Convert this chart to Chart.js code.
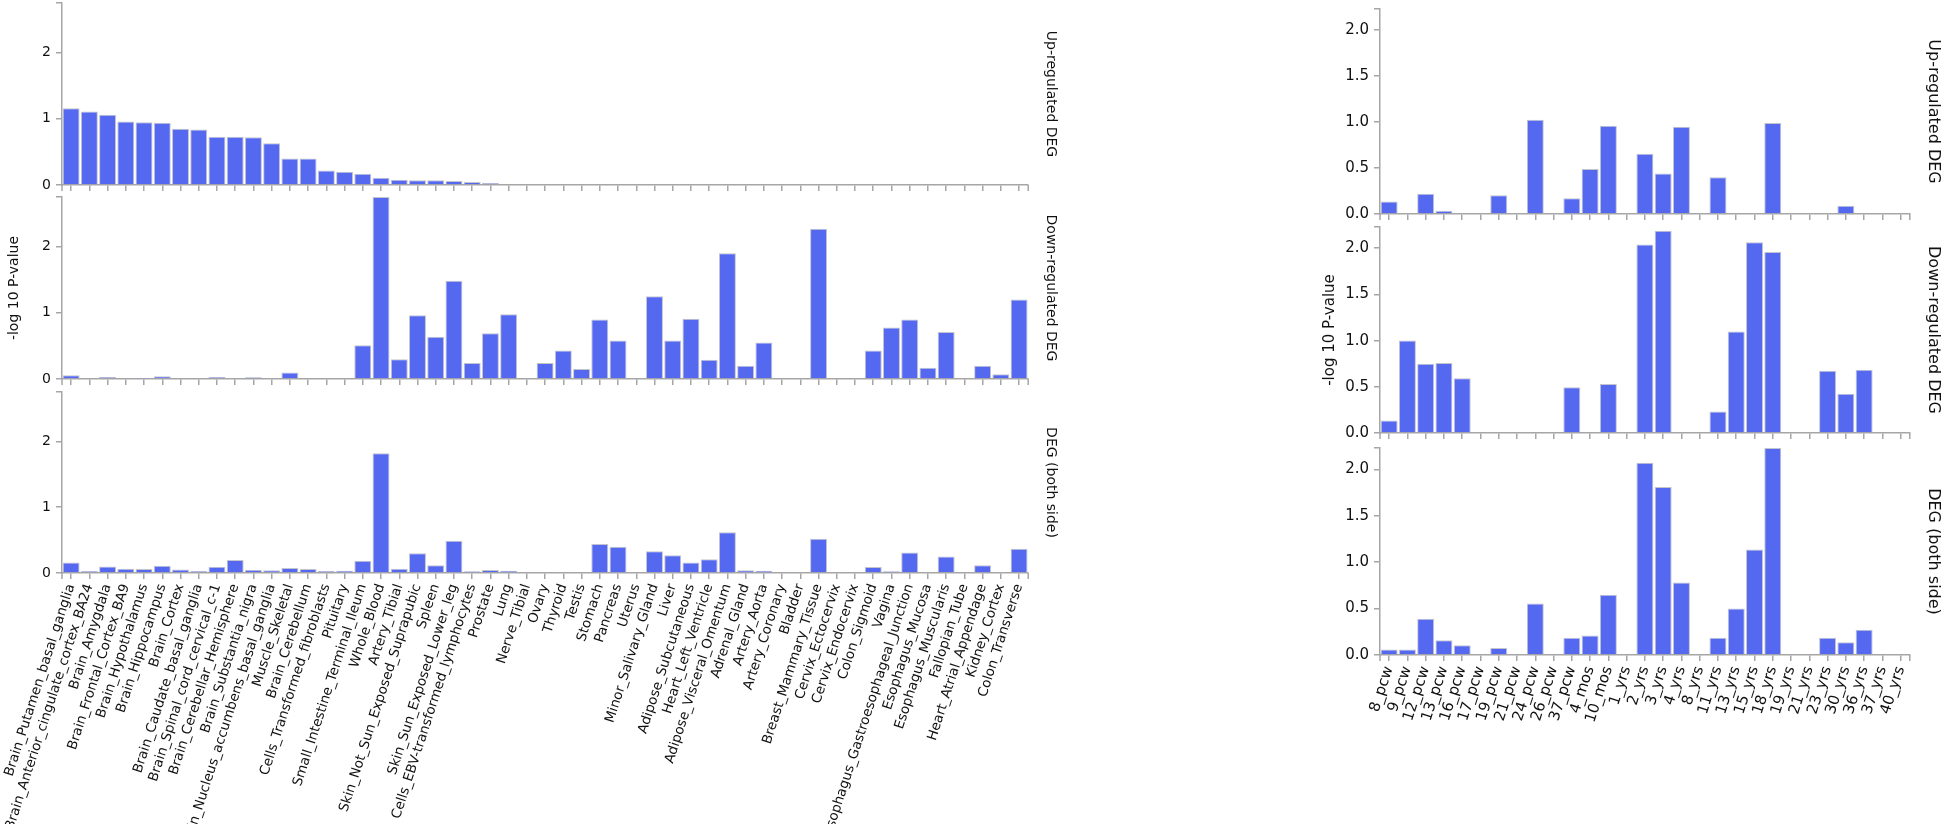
<!DOCTYPE html>
<html>
<head>
<meta charset="utf-8">
<script src="https://cdn.jsdelivr.net/npm/chart.js@4.4.1/dist/chart.umd.min.js"></script>
<style>
  html, body { margin: 0; padding: 0; background: #fff; }
  body { width: 1946px; height: 824px; position: relative; overflow: hidden; }
  canvas { position: absolute; top: 0; }
</style>
</head>
<body>
<canvas id="tissueUpChart" width="1059" height="824" style="left:0"></canvas>
<canvas id="tissueDownChart" width="1059" height="824" style="left:0"></canvas>
<canvas id="tissueBothChart" width="1059" height="824" style="left:0"></canvas>
<canvas id="ageUpChart" width="628" height="824" style="left:1315px"></canvas>
<canvas id="ageDownChart" width="628" height="824" style="left:1315px"></canvas>
<canvas id="ageBothChart" width="628" height="824" style="left:1315px"></canvas>
<script>
//Data - GTEx tissues (left)
const tissues = [
  'Brain_Putamen_basal_ganglia', 'Brain_Anterior_cingulate_cortex_BA24', 'Brain_Amygdala',
  'Brain_Frontal_Cortex_BA9', 'Brain_Hypothalamus', 'Brain_Hippocampus', 'Brain_Cortex',
  'Brain_Caudate_basal_ganglia', 'Brain_Spinal_cord_cervical_c-1', 'Brain_Cerebellar_Hemisphere',
  'Brain_Substantia_nigra', 'Brain_Nucleus_accumbens_basal_ganglia', 'Muscle_Skeletal',
  'Brain_Cerebellum', 'Cells_Transformed_fibroblasts', 'Pituitary', 'Small_Intestine_Terminal_Ileum',
  'Whole_Blood', 'Artery_Tibial', 'Skin_Not_Sun_Exposed_Suprapubic', 'Spleen',
  'Skin_Sun_Exposed_Lower_leg', 'Cells_EBV-transformed_lymphocytes', 'Prostate', 'Lung',
  'Nerve_Tibial', 'Ovary', 'Thyroid', 'Testis', 'Stomach', 'Pancreas', 'Uterus',
  'Minor_Salivary_Gland', 'Liver', 'Adipose_Subcutaneous', 'Heart_Left_Ventricle',
  'Adipose_Visceral_Omentum', 'Adrenal_Gland', 'Artery_Aorta', 'Artery_Coronary', 'Bladder',
  'Breast_Mammary_Tissue', 'Cervix_Ectocervix', 'Cervix_Endocervix', 'Colon_Sigmoid', 'Vagina',
  'Esophagus_Gastroesophageal_Junction', 'Esophagus_Mucosa', 'Esophagus_Muscularis',
  'Fallopian_Tube', 'Heart_Atrial_Appendage', 'Kidney_Cortex', 'Colon_Transverse'
];
const tissueUp = [
  1.16, 1.11, 1.06, 0.96, 0.95, 0.94, 0.85, 0.84, 0.73, 0.73, 0.72, 0.63, 0.40,
  0.40, 0.22, 0.20, 0.17, 0.11, 0.08, 0.07, 0.07, 0.06, 0.045, 0.03, 0.01,
  0, 0, 0, 0, 0, 0, 0, 0, 0, 0, 0, 0, 0, 0, 0, 0, 0, 0, 0, 0, 0, 0, 0, 0, 0, 0, 0, 0
];
const tissueDown = [
  0.055, 0, 0.03, 0, 0.005, 0.04, 0, 0, 0.03, 0, 0.025, 0.015, 0.10,
  0, 0, 0, 0.51, 2.75, 0.30, 0.965, 0.64, 1.485, 0.24, 0.69, 0.98,
  0, 0.24, 0.43, 0.15, 0.90, 0.58, 0, 1.25, 0.58, 0.91, 0.29, 1.90, 0.20, 0.55, 0, 0,
  2.27, 0, 0, 0.43, 0.78, 0.90, 0.17, 0.71, 0, 0.20, 0.07, 1.20
];
const tissueBoth = [
  0.16, 0.03, 0.10, 0.066, 0.06, 0.11, 0.055, 0.03, 0.096, 0.197, 0.05, 0.04, 0.076,
  0.06, 0.03, 0.035, 0.187, 1.82, 0.066, 0.30, 0.116, 0.49, 0.025, 0.045, 0.035,
  0, 0, 0, 0, 0.44, 0.40, 0, 0.33, 0.27, 0.16, 0.21, 0.62, 0.04, 0.035, 0, 0,
  0.52, 0, 0, 0.09, 0.025, 0.31, 0.015, 0.25, 0, 0.116, 0.015, 0.37
];

//Data - developmental ages (right)
const ages = [
  '8_pcw', '9_pcw', '12_pcw', '13_pcw', '16_pcw', '17_pcw', '19_pcw', '21_pcw', '24_pcw',
  '26_pcw', '37_pcw', '4_mos', '10_mos', '1_yrs', '2_yrs', '3_yrs', '4_yrs', '8_yrs',
  '11_yrs', '13_yrs', '15_yrs', '18_yrs', '19_yrs', '21_yrs', '23_yrs', '30_yrs',
  '36_yrs', '37_yrs', '40_yrs'
];
const ageUp = [
  0.137, 0, 0.22, 0.036, 0, 0, 0.205, 0, 1.025, 0, 0.17, 0.49, 0.96, 0,
  0.655, 0.44, 0.95, 0, 0.40, 0, 0, 0.99, 0, 0, 0, 0.09, 0, 0, 0
];
const ageDown = [
  0.134, 1.0, 0.75, 0.757, 0.594, 0, 0, 0, 0, 0, 0.496, 0, 0.53, 0,
  2.04, 2.19, 0, 0, 0.234, 1.10, 2.065, 1.96, 0, 0, 0.674, 0.424, 0.685, 0, 0
];
const ageBoth = [
  0.058, 0.058, 0.39, 0.16, 0.104, 0, 0.076, 0, 0.554, 0, 0.187, 0.209, 0.65, 0,
  2.07, 1.81, 0.78, 0, 0.187, 0.50, 1.137, 2.23, 0, 0, 0.187, 0.137, 0.273, 0, 0
];

const sideTitles = ['Up-regulated DEG', 'Down-regulated DEG', 'DEG (both side)'];
const yTitle = '-log 10 P-value';

//Styles
const face = "'DejaVu Sans', sans-serif";
const ink = '#111';
const axisGrey = '#a6a6a6';
const barBlue = '#5568f0';
const barEdge = '#c4c4cc';

//Small d3-like outer ticks at both ends of the x axis
const axisEnds = {
  id: 'axisEnds',
  afterDraw(chart) {
    const {ctx, chartArea} = chart;
    ctx.save();
    ctx.strokeStyle = axisGrey;
    ctx.lineWidth = 1.5;
    ctx.beginPath();
    [chartArea.left, chartArea.right].forEach(x => {
      ctx.moveTo(x, chartArea.bottom);
      ctx.lineTo(x, chartArea.bottom + 6);
    });
    ctx.stroke();
    ctx.restore();
  }
};

const makePanel = (id, cfg) => new Chart(document.getElementById(id), {
  type: 'bar',
  data: {
    labels: cfg.labels,
    datasets: [{
      label: cfg.side,
      data: cfg.values,
      backgroundColor: barBlue,
      borderColor: barEdge,
      borderWidth: 1,
      barPercentage: 0.93,
      categoryPercentage: 1
    }]
  },
  options: {
    responsive: false,
    animation: false,
    layout: { padding: { top: cfg.top, left: 0, right: 0, bottom: 0 } },
    plugins: {
      legend: { display: false },
      tooltip: { enabled: false },
      title: {
        display: true,
        text: cfg.side,
        position: 'right',
        fullSize: false,
        color: ink,
        font: { family: face, size: cfg.sideSize, weight: 'normal' },
        padding: { top: 0, bottom: cfg.sidePad }
      }
    },
    scales: {
      x: {
        afterFit: s => { s.height = cfg.xHeight; s.paddingLeft = 0; s.paddingRight = 0; },
        border: { color: axisGrey, width: 1.5 },
        grid: { offset: false, drawOnChartArea: false, tickLength: 6, color: axisGrey, lineWidth: 1.5 },
        ticks: {
          display: cfg.showLabels,
          autoSkip: false,
          minRotation: 72,
          maxRotation: 72,
          padding: 3,
          color: ink,
          font: { family: face, size: cfg.labelSize }
        }
      },
      y: {
        min: 0,
        max: cfg.max,
        afterFit: s => { s.width = cfg.yWidth; s.paddingTop = 0; s.paddingBottom = 0; },
        border: { color: axisGrey, width: 1.5 },
        grid: { drawOnChartArea: false, tickLength: 6, color: axisGrey, lineWidth: 1.5 },
        ticks: {
          stepSize: cfg.step,
          padding: 5,
          color: ink,
          font: { family: face, size: cfg.tickSize },
          callback: cfg.fmt
        },
        title: {
          display: cfg.showTitle,
          text: yTitle,
          color: ink,
          font: { family: face, size: cfg.tickSize },
          padding: { top: 6, bottom: 0 }
        }
      }
    }
  },
  plugins: [axisEnds]
});

//Left column
const tissueMax = Math.max(...tissueUp, ...tissueDown, ...tissueBoth);
const wholeNums = v => (Math.abs(v - Math.round(v)) < 1e-9 ? v : '');
const tissueBase = {
  labels: tissues, max: tissueMax, step: 1, fmt: wholeNums,
  yWidth: 62, sideSize: 14, sidePad: 14, labelSize: 13.5, tickSize: 14
};
makePanel('tissueUpChart', {...tissueBase, values: tissueUp, side: sideTitles[0],
  top: 3, xHeight: 639, showLabels: false, showTitle: false});
makePanel('tissueDownChart', {...tissueBase, values: tissueDown, side: sideTitles[1],
  top: 197, xHeight: 445, showLabels: false, showTitle: true});
makePanel('tissueBothChart', {...tissueBase, values: tissueBoth, side: sideTitles[2],
  top: 392, xHeight: 251, showLabels: true, showTitle: false});

//Right column
const ageMax = Math.max(...ageUp, ...ageDown, ...ageBoth);
const halfSteps = v => (Math.abs(v * 2 - Math.round(v * 2)) < 1e-9 ? v.toFixed(1) : '');
const ageBase = {
  labels: ages, max: ageMax, step: 0.5, fmt: halfSteps,
  yWidth: 65, sideSize: 16, sidePad: 14, labelSize: 15, tickSize: 15
};
makePanel('ageUpChart', {...ageBase, values: ageUp, side: sideTitles[0],
  top: 9, xHeight: 610, showLabels: false, showTitle: false});
makePanel('ageDownChart', {...ageBase, values: ageDown, side: sideTitles[1],
  top: 227, xHeight: 391, showLabels: false, showTitle: true});
makePanel('ageBothChart', {...ageBase, values: ageBoth, side: sideTitles[2],
  top: 448, xHeight: 169, showLabels: true, showTitle: false});
</script>
</body>
</html>
